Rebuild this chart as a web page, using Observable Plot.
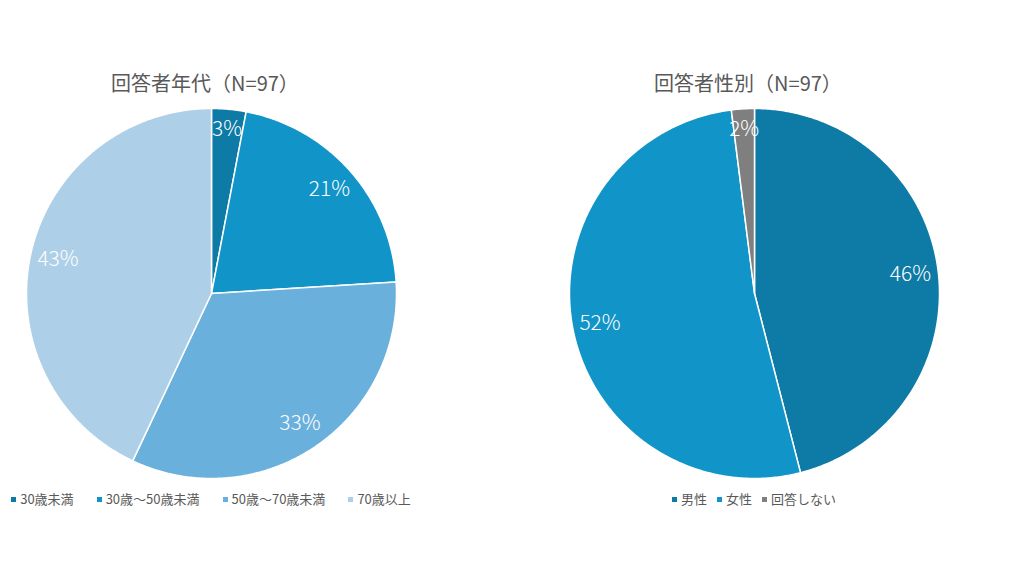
<!DOCTYPE html>
<html><head><meta charset="utf-8">
<script src="https://cdn.jsdelivr.net/npm/d3@7"></script>
<script src="https://cdn.jsdelivr.net/npm/@observablehq/plot@0.6"></script>
<style>
body{margin:0;background:#fff;font-family:"Noto Sans CJK JP","Noto Sans",sans-serif;}
#page{position:relative;width:1024px;height:576px;overflow:hidden;}
.title{position:absolute;top:68px;width:400px;text-align:center;font-size:20px;color:#595959;font-weight:400;}
.pie{position:absolute;top:107px;}
.legend{position:absolute;top:489px;width:500px;display:flex;justify-content:center;font-size:13px;color:#595959;}
.legend span.sw{display:inline-block;width:5px;height:5px;margin-right:4px;vertical-align:middle;position:relative;top:-1px;}
</style></head>
<body><div id="page"></div>
<script>
// Chart 1: age groups
const ageTitle = "回答者年代（N=97）";
const ageCategories = ["30歳未満", "30歳～50歳未満", "50歳～70歳未満", "70歳以上"];
const ageValues = [3, 21, 33, 43];
const ageColors = ["#0e7aa6", "#1194c8", "#6ab0dc", "#add0e8"];

// Chart 2: gender
const genderTitle = "回答者性別（N=97）";
const genderCategories = ["男性", "女性", "回答しない"];
const genderValues = [46, 52, 2];
const genderColors = ["#0e7aa6", "#1194c8", "#7f7f7f"];

function pieChart(categories, values, colors) {
  const arcs = d3.pie().sort(null).value(d => d.value)(categories.map((c, i) => ({key: c, value: values[i]})));
  const pts = [];
  const labels = [];
  for (const a of arcs) {
    const n = Math.max(2, Math.ceil((a.endAngle - a.startAngle) / 0.01));
    pts.push({key: a.data.key, x: 0, y: 0});
    for (let k = 0; k <= n; k++) {
      const t = a.startAngle + (a.endAngle - a.startAngle) * k / n;
      pts.push({key: a.data.key, x: Math.sin(t), y: Math.cos(t)});
    }
    pts.push({key: a.data.key, x: 0, y: 0});
    const mid = (a.startAngle + a.endAngle) / 2;
    const rr = a.data.value < 5 ? 0.89 : 0.85;
    labels.push({key: a.data.key, x: rr * Math.sin(mid), y: rr * Math.cos(mid), text: a.data.value + "%"});
  }
  return Plot.plot({
    width: 372, height: 372, margin: 1,
    x: {domain: [-1, 1], axis: null},
    y: {domain: [-1, 1], axis: null},
    color: {domain: categories, range: colors},
    marks: [
      Plot.line(pts, {x: "x", y: "y", z: "key", fill: "key", stroke: "white", strokeWidth: 1.5, curve: "linear"}),
      Plot.text(labels, {x: "x", y: "y", text: "text", fill: "white", fontSize: 21, fontWeight: 300, fontFamily: "'Noto Sans CJK JP', sans-serif"})
    ]
  });
}

function legend(categories, colors, gap) {
  const div = document.createElement("div");
  div.className = "legend";
  div.style.gap = gap + "px";
  categories.forEach((c, i) => {
    const item = document.createElement("div");
    item.innerHTML = `<span class="sw" style="background:${colors[i]}"></span>${c}`;
    div.appendChild(item);
  });
  return div;
}

const page = document.getElementById("page");
function place(title, categories, values, colors, cx, gap) {
  const t = document.createElement("div");
  t.className = "title"; t.textContent = title; t.style.left = (cx - 6 - 200) + "px";
  page.appendChild(t);
  const svg = pieChart(categories, values, colors);
  svg.classList.add("pie"); svg.style.left = (cx - 186) + "px";
  page.appendChild(svg);
  const lg = legend(categories, colors, gap);
  lg.style.left = (cx - 250) + "px";
  page.appendChild(lg);
}
place(ageTitle, ageCategories, ageValues, ageColors, 211, 23);
place(genderTitle, genderCategories, genderValues, genderColors, 754, 10);
</script></body></html>
